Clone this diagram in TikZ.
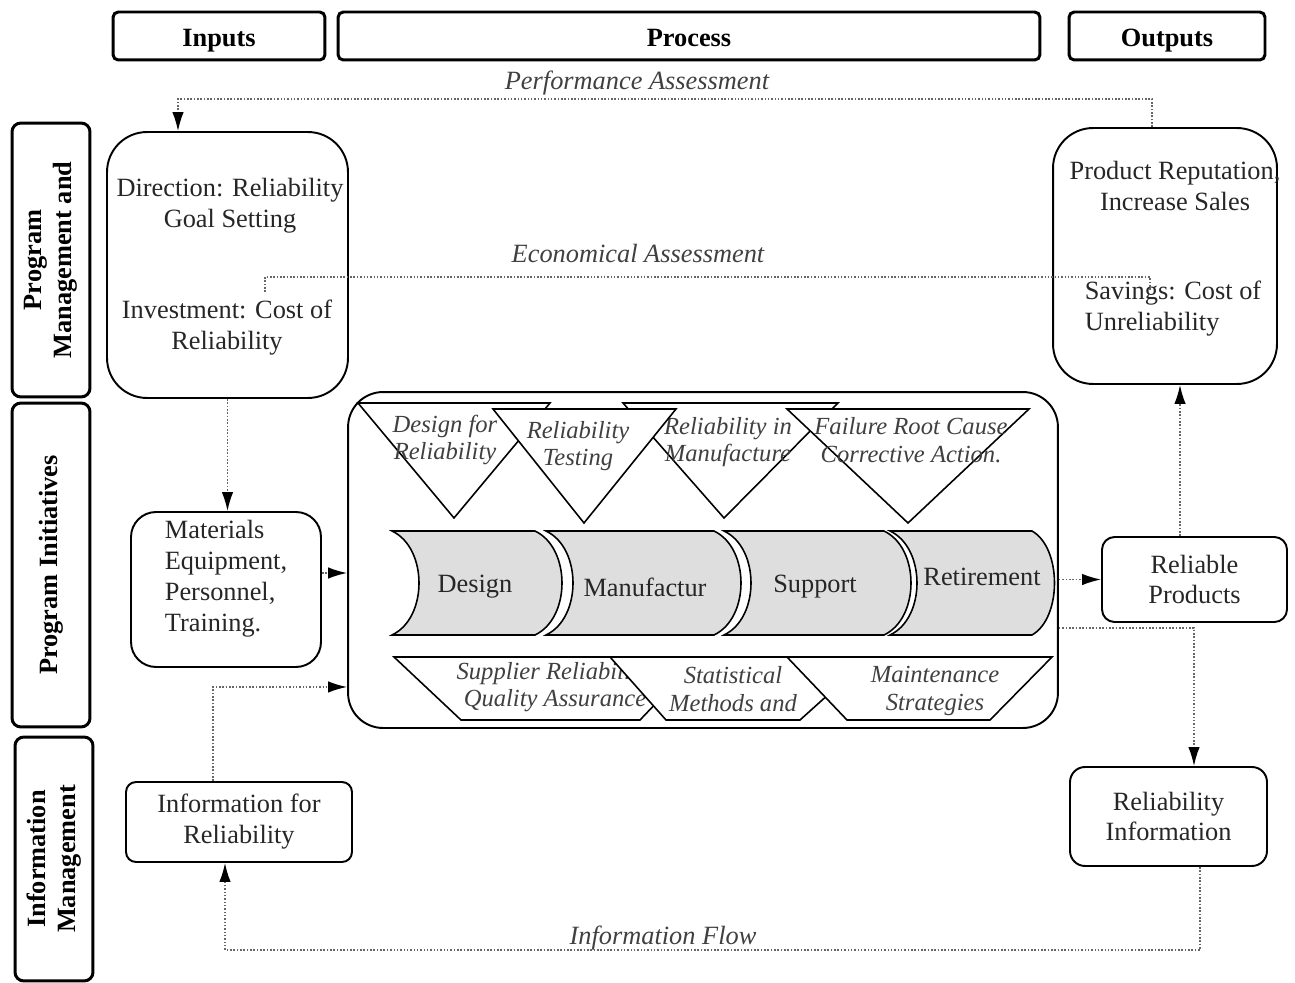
\documentclass[tikz,border=0pt]{standalone}
\usepackage{fontspec}
\setmainfont{Liberation Serif}
\usepackage{tikz}
\usetikzlibrary{
    arrows.meta,
    calc,
    positioning,
}
\tikzstyle{flowarrow}=[-{Latex[length=3.8mm, width=2.3mm, color=black]}]
\tikzset{every picture/.style={line width=0.9pt}}
\tikzset{
    headbox/.style={draw, line width=1.7pt, rounded corners=3pt, inner sep=0pt,
        minimum height=0.96cm, text height=12.4pt, text depth=0pt,
        font=\fontsize{15}{18}\selectfont\bfseries},
    sidebox/.style={draw, line width=1.7pt, rounded corners=5pt, inner sep=0pt,
        rotate=90, align=center, minimum height=1.56cm,
        font=\fontsize{15}{17}\selectfont\bfseries},
    roundbox/.style={draw, line width=1.1pt, inner sep=0pt, align=center,
        text=black!85, font=\fontsize{15}{17.6}\selectfont},
    txt/.style={align=center, inner sep=0pt, text=black!85, font=\fontsize{15}{17.6}\selectfont},
    lbl/.style={text=black!75, font=\fontsize{15}{18}\selectfont\itshape},
    itxt/.style={align=center, text=black!75, font=\fontsize{14}{15.8}\selectfont\itshape},
    flowline/.style={densely dotted, line width=0.9pt, black!60},
    chev/.style={draw, fill=black!13, line width=0.9pt},
    wedge/.style={draw, fill=white, line width=0.9pt},
}

\begin{document}
\begin{tikzpicture}[x=0.02cm, y=-0.02cm]
    \useasboundingbox (0,0) rectangle (1295,983);

    % column heads
    \node[headbox, minimum width=4.24cm] (inputs) at (219,36) {Inputs};
    \node[headbox, minimum width=14.04cm] (prochead) at (689,36) {Process};
    \node[headbox, minimum width=3.92cm] (outputs) at (1167,36) {Outputs};

    % row labels
    \node[sidebox, minimum width=5.48cm] (pmlbl) at (51,260) {Program\\Management and};
    \node[sidebox, minimum width=6.48cm] (pilbl) at (51,565) {Program Initiatives};
    \node[sidebox, minimum width=4.88cm] (imlbl) at (54,859) {Information\\Management};

    % management boxes
    \node[roundbox, rounded corners=0.8cm, minimum width=4.82cm, minimum height=5.32cm] (mgmt) at (227.5,265) {};
    \node[txt] (direction) at (230,206) {Direction: Reliability\\Goal Setting};
    \node[txt] (invest) at (227,328) {Investment: Cost of\\Reliability};

    \node[roundbox, rounded corners=0.8cm, minimum width=4.48cm, minimum height=5.12cm] (results) at (1165,256) {};
    \node[txt] (reput) at (1175,186) {Product Reputation,\\Increase Sales};
    \node[txt, align=left, anchor=west] (savings) at (1084,309) {Savings: Cost of\\Unreliability};

    % initiatives
    \node[roundbox, rounded corners=0.5cm, minimum width=3.8cm, minimum height=3.1cm] (resources) at (226,589.5) {};
    \node[txt, align=left] (materials) at (226,579) {Materials\\Equipment,\\Personnel,\\Training.};
    \node[roundbox, rounded corners=0.25cm, minimum width=3.7cm, minimum height=1.7cm] (relprod) at (1194.5,579.5)
        {Reliable\\Products};

    % information
    \node[roundbox, rounded corners=0.2cm, minimum width=4.52cm, minimum height=1.6cm] (inforel) at (239,822)
        {Information for\\Reliability};
    \node[roundbox, rounded corners=0.3cm, minimum width=3.94cm, minimum height=1.98cm] (relinfo) at (1168.5,816.5)
        {Reliability\\Information};

    % process frame
    \node[roundbox, rounded corners=0.7cm, minimum width=14.2cm, minimum height=6.72cm] (procbox) at (703,560) {};

    % upper wedges
    \draw[wedge] (358,403) -- (550,403) -- (454,518) -- cycle;
    \node[itxt] (dfr) at (445,440) {Design for\\Reliability};
    \draw[wedge] (623,403) -- (838,403) -- (724,518) -- cycle;
    \node[itxt] (rim) at (728,442) {Reliability in\\Manufacture};
    \draw[wedge] (493,409) -- (676,409) -- (584,523) -- cycle;
    \node[itxt] (rtest) at (578,446) {Reliability\\Testing};
    \draw[wedge] (787,409) -- (1029,409) -- (908,523) -- cycle;
    \node[itxt] (frc) at (911,440) {Failure Root Cause\\Corrective Action.};

    % life cycle stages
    \draw[chev] (392,531) -- (535,531) .. controls (571,548) and (571,618) .. (535,635)
        -- (392,635) .. controls (428,618) and (428,548) .. (392,531) -- cycle;
    \node[txt] (design) at (475,587) {Design};
    \draw[chev] (546,531) -- (714,531) .. controls (750,548) and (750,618) .. (714,635)
        -- (546,635) .. controls (582,618) and (582,548) .. (546,531) -- cycle;
    \node[txt] (manuf) at (645,587) {Manufactur};
    \draw[chev] (724,531) -- (884,531) .. controls (920,548) and (920,618) .. (884,635)
        -- (724,635) .. controls (760,618) and (760,548) .. (724,531) -- cycle;
    \node[txt] (support) at (815,587) {Support};
    \draw[chev] (890,531) -- (1032,531) .. controls (1062,548) and (1062,618) .. (1032,635)
        -- (890,635) .. controls (926,618) and (926,548) .. (890,531) -- cycle;
    \node[txt] (retire) at (982,577) {Retirement};

    % lower wedges
    \draw[wedge] (394,657) -- (700,657) -- (640,720) -- (461,720) -- cycle;
    \node[itxt] (suppl) at (555,687) {Supplier Reliability,\\Quality Assurance};
    \draw[wedge] (610,657) -- (870,657) -- (800,720) -- (666,720) -- cycle;
    \node[itxt] (stats) at (733,689) {Statistical\\Methods and};
    \draw[wedge] (787,657) -- (1052,657) -- (990,720) -- (847,720) -- cycle;
    \node[itxt] (maint) at (935,691) {Maintenance\\Strategies};

    % performance assessment
    \coordinate (pa) at (178,99);
    \draw[flowline, flowarrow] ([xshift=-0.26cm]results.north) |- (pa) -- (pa |- mgmt.north);
    \node[lbl] (perf) at (637,83) {Performance Assessment};

    % economical assessment
    \coordinate (ea1) at (265,292);
    \coordinate (ea2) at (1150,290);
    \draw[flowline] (ea1) -- ++(0,-15) -| (ea2);
    \node[lbl] (econ) at (638,253) {Economical Assessment};

    \draw[flowline, flowarrow] (mgmt.south) -- (mgmt.south |- resources.north);
    \coordinate (m2p) at ([yshift=0.33cm]resources.east);
    \draw[flowline, flowarrow] (m2p) -- (m2p -| procbox.west);
    \coordinate (i2p) at ([xshift=-0.52cm]inforel.north);
    \coordinate (p2i) at ([yshift=-2.54cm]procbox.west);
    \draw[flowline, flowarrow] (i2p) |- (p2i);

    \draw[flowline, flowarrow] (relprod.west -| procbox.east) -- (relprod.west);
    \coordinate (r2r) at ([xshift=-0.29cm]relprod.north);
    \draw[flowline, flowarrow] (r2r) -- (r2r |- results.south);
    \coordinate (p2r) at ([yshift=-1.36cm]procbox.east);
    \coordinate (r2i) at ([xshift=0.51cm]relinfo.north);
    \draw[flowline, flowarrow] (p2r) -| (r2i);

    % information flow
    \coordinate (ri) at ([xshift=0.63cm]relinfo.south);
    \coordinate (ifl) at (225,950);
    \draw[flowline, flowarrow] (ri) |- (ifl) -- (ifl |- inforel.south);
    \node[lbl] (infoflow) at (663,938) {Information Flow};
\end{tikzpicture}
\end{document}
